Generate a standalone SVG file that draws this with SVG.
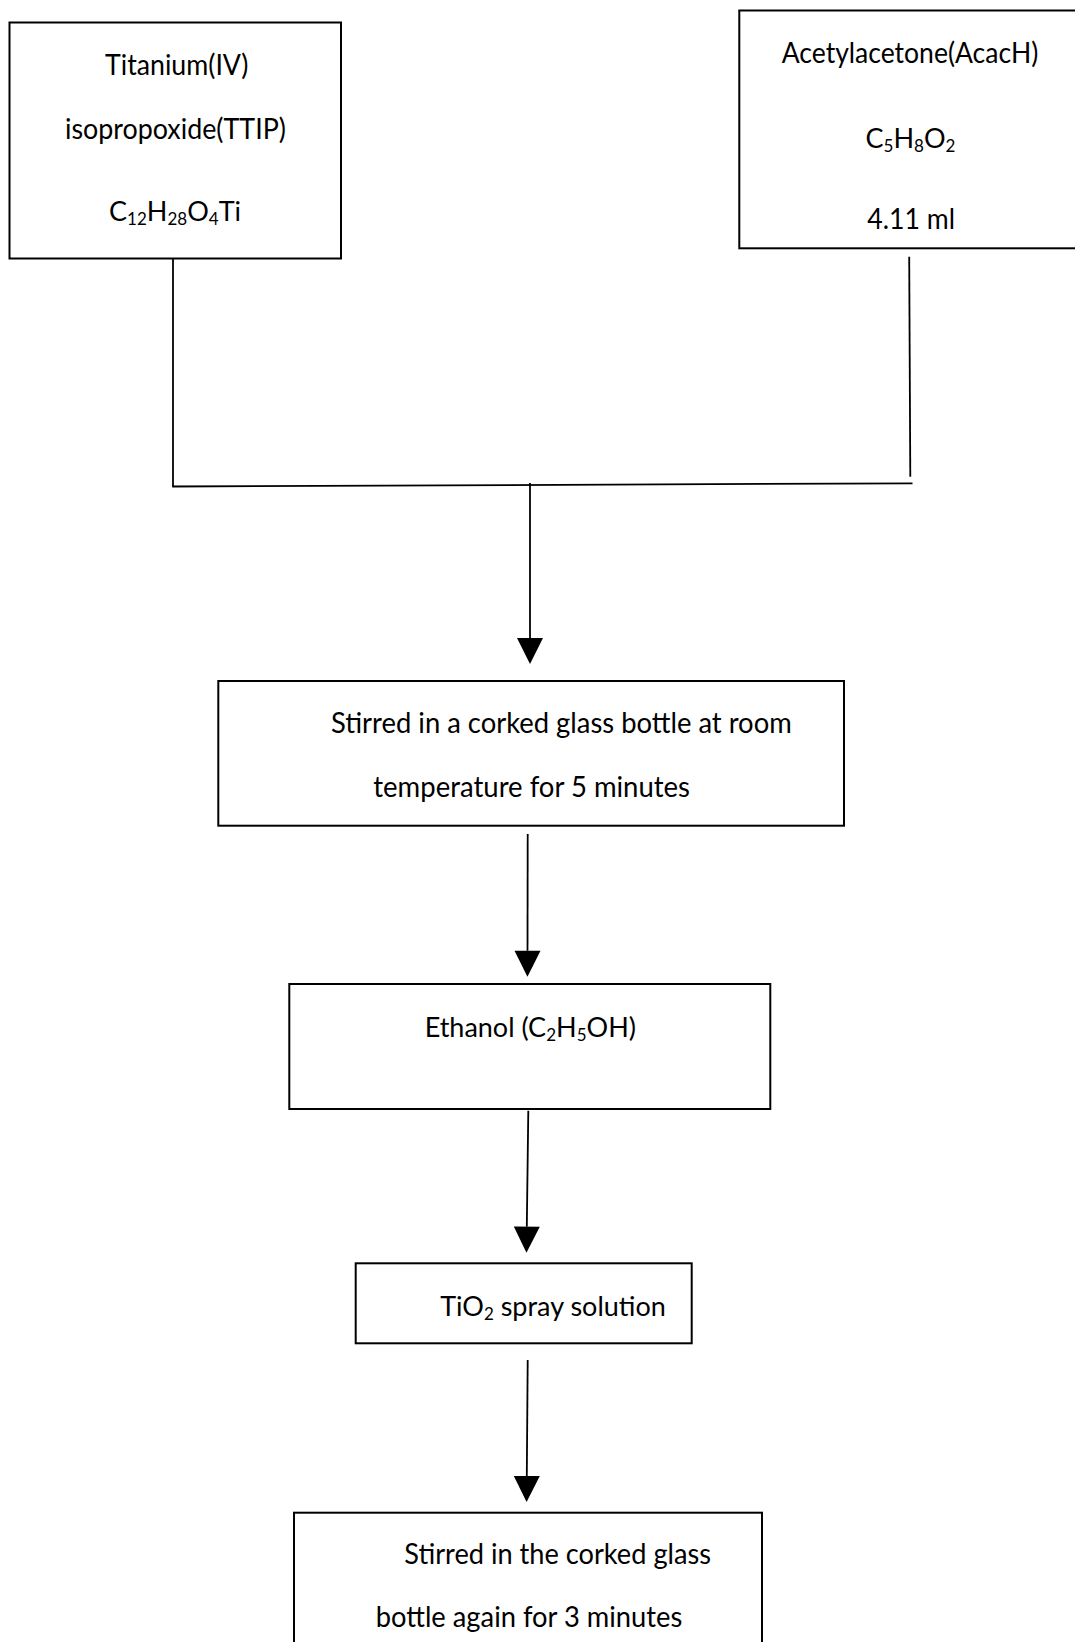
<svg xmlns="http://www.w3.org/2000/svg" width="1075" height="1642" viewBox="0 0 1075 1642">
<style>
  .box { fill: #ffffff; stroke: #000000; stroke-width: 2; }
  .line { fill: none; stroke: #000000; stroke-width: 1.8; }
  .arrow { fill: none; stroke: #000000; stroke-width: 1.8; marker-end: url(#head); }
  .t { font-family: Lato, "Liberation Sans", sans-serif; font-size: 28px; fill: #000000; }
  .f { font-family: Lato, "Liberation Sans", sans-serif; font-size: 27px; fill: #000000; text-anchor: middle; }
  .sub { font-size: 17px; }
</style>
<defs>
  <marker id="head" markerUnits="userSpaceOnUse" markerWidth="26" markerHeight="26" refX="0" refY="13" orient="auto" overflow="visible">
    <path d="M0,0 L26,13 L0,26 Z" fill="#000000"/>
  </marker>
</defs>
<rect width="1075" height="1642" fill="#ffffff"/>

<g id="connectors">
  <line class="line" x1="173" y1="258.5" x2="173" y2="486.5"/>
  <line class="line" x1="909.2" y1="256.7" x2="910.3" y2="476.7"/>
  <line class="line" x1="172.2" y1="486.5" x2="912.5" y2="483.3"/>
  <line class="arrow" x1="530" y1="483" x2="530" y2="638"/>
  <line class="arrow" x1="527.7" y1="834" x2="527.5" y2="950.7"/>
  <line class="arrow" x1="528.3" y1="1110.7" x2="526.8" y2="1226.7"/>
  <line class="arrow" x1="527.7" y1="1360" x2="526.8" y2="1476"/>
</g>

<g id="node-ttip">
  <rect class="box" x="9.5" y="22.5" width="331.5" height="236"/>
  <text class="t" x="105" y="75" textLength="143.3" lengthAdjust="spacingAndGlyphs">Titanium(IV)</text>
  <text class="t" x="65" y="138.5" textLength="221" lengthAdjust="spacingAndGlyphs">isopropoxide(TTIP)</text>
  <text class="f" x="175" y="220.5">C<tspan class="sub" dy="4">12</tspan><tspan dy="-4">H</tspan><tspan class="sub" dy="4">28</tspan><tspan dy="-4">O</tspan><tspan class="sub" dy="4">4</tspan><tspan dy="-4">Ti</tspan></text>
</g>

<g id="node-acac">
  <rect class="box" x="739.3" y="10.5" width="345" height="237.8"/>
  <text class="t" x="781.7" y="62.5" textLength="256.6" lengthAdjust="spacingAndGlyphs">Acetylacetone(AcacH)</text>
  <text class="f" x="910.5" y="148.3">C<tspan class="sub" dy="4">5</tspan><tspan dy="-4">H</tspan><tspan class="sub" dy="4">8</tspan><tspan dy="-4">O</tspan><tspan class="sub" dy="4">2</tspan></text>
  <text class="t" x="867.3" y="229.3" textLength="87.7" lengthAdjust="spacingAndGlyphs">4.11 ml</text>
</g>

<g id="node-stir1">
  <rect class="box" x="218.3" y="681" width="625.7" height="144.7"/>
  <text class="t" x="331" y="732.7" textLength="460.7" lengthAdjust="spacingAndGlyphs">Stirred in a corked glass bottle at room</text>
  <text class="t" x="373.3" y="796.7" textLength="316.7" lengthAdjust="spacingAndGlyphs">temperature for 5 minutes</text>
</g>

<g id="node-ethanol">
  <rect class="box" x="289.3" y="984" width="481" height="125"/>
  <text class="f" x="530.3" y="1036.7">Ethanol (C<tspan class="sub" dy="4">2</tspan><tspan dy="-4">H</tspan><tspan class="sub" dy="4">5</tspan><tspan dy="-4">OH)</tspan></text>
</g>

<g id="node-tio2">
  <rect class="box" x="355.7" y="1263.3" width="336" height="80"/>
  <text class="f" x="553" y="1315.7">TiO<tspan class="sub" dy="4">2</tspan><tspan dy="-4"> spray solution</tspan></text>
</g>

<g id="node-stir2">
  <rect class="box" x="294" y="1512.7" width="468" height="140"/>
  <text class="t" x="404.3" y="1564" textLength="306.7" lengthAdjust="spacingAndGlyphs">Stirred in the corked glass</text>
  <text class="t" x="375.7" y="1626.7" textLength="306.6" lengthAdjust="spacingAndGlyphs">bottle again for 3 minutes</text>
</g>
</svg>
